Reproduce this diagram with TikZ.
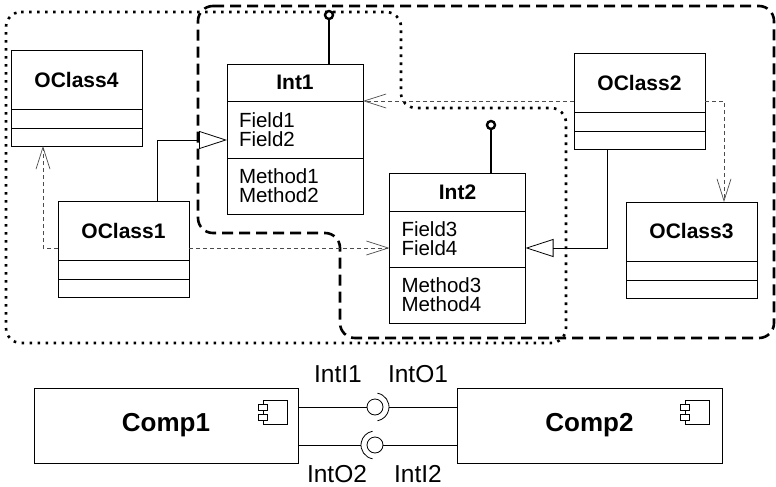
\documentclass[tikz,border=0pt]{standalone}
\usepackage{fontspec}
\setmainfont{Liberation Sans}
\usetikzlibrary{
  	positioning,
  	arrows.meta,
  	calc
  }
\tikzstyle{ctitle}=[draw,line width=0.8pt,outer sep=0pt,inner sep=0pt,minimum width=131pt,minimum height=59pt,font=\fontsize{21}{19}\selectfont\bfseries]
\tikzstyle{cpart}=[draw,line width=0.8pt,outer sep=0pt,inner sep=0pt,minimum width=131pt]
\tikzstyle{ipart}=[draw,line width=0.8pt,outer sep=0pt,text width=112pt,inner xsep=12pt,inner ysep=0pt,align=left,font=\fontsize{20.5}{19}\selectfont]
\tikzstyle{compbox}=[draw,line width=0.8pt,outer sep=0pt,minimum width=265pt,minimum height=75pt,font=\fontsize{26}{26}\selectfont\bfseries]
\tikzstyle{icon}=[draw,line width=0.7pt,fill=white,inner sep=0pt,minimum width=24pt,minimum height=24pt]
\tikzstyle{tab}=[draw,line width=0.7pt,fill=white,inner sep=0pt,minimum width=9pt,minimum height=6pt]
\tikzstyle{lolly}=[circle,draw,line width=2.4pt,inner sep=0pt,minimum size=8pt]
\tikzstyle{ball}=[circle,draw,line width=0.8pt,inner sep=0pt,minimum size=16pt]
\tikzstyle{lbl}=[font=\fontsize{24.5}{24.5}\selectfont,inner sep=0pt,text depth=0pt]
\tikzstyle{gen}=[line width=0.8pt,-{Triangle[open,length=28pt,width=18pt]}]
\tikzstyle{dep}=[line width=0.7pt,gray!60!black,dash pattern=on 4pt off 3pt,-{Straight Barb[length=22pt,width=14pt]}]
\tikzstyle{dotreg}=[line width=2.6pt,dash pattern=on 2.6pt off 5.4pt,rounded corners=15pt]
\tikzstyle{dashreg}=[line width=2.6pt,dash pattern=on 11pt off 6pt,rounded corners=15pt]
\begin{document}
\begin{tikzpicture}[x=1pt,y=-1pt]
    \useasboundingbox (0,0) rectangle (776,487);
    % packages
    \draw [dotreg] (6,12) -- (401,12) -- (401,108) -- (566,108) --
       (566,343) -- (6,343) -- cycle;
    \draw [dashreg] (198,6) -- (774,6) -- (774,338) -- (340,338) --
       (340,233) -- (198,233) -- cycle;
    % classes
    \node [ctitle] (oc4) at (76.5,79.5) {OClass4};
    \node [cpart,minimum height=19pt,below=0pt of oc4] (oc4a) {};
    \node [cpart,minimum height=18pt,below=0pt of oc4a] (oc4b) {};
    \node [ctitle] (oc1) at (123.5,230.5) {OClass1};
    \node [cpart,minimum height=19pt,below=0pt of oc1] (oc1a) {};
    \node [cpart,minimum height=18pt,below=0pt of oc1a] (oc1b) {};
    \node [ctitle] (oc2) at (639.5,82.5) {OClass2};
    \node [cpart,minimum height=19pt,below=0pt of oc2] (oc2a) {};
    \node [cpart,minimum height=18pt,below=0pt of oc2a] (oc2b) {};
    \node [ctitle] (oc3) at (691.5,231.5) {OClass3};
    \node [cpart,minimum height=19pt,below=0pt of oc3] (oc3a) {};
    \node [cpart,minimum height=18pt,below=0pt of oc3a] (oc3b) {};
    % interfaces
    \node [ctitle,minimum width=136pt,minimum height=37pt] (int1) at (295,82.5) {Int1};
    \node [ipart,minimum height=57pt,below=0pt of int1] (int1f) {Field1\\Field2};
    \node [ipart,minimum height=56pt,below=0pt of int1f] (int1m) {Method1\\Method2};
    \node [ctitle,minimum width=136pt,minimum height=38pt] (int2) at (457.5,192) {Int2};
    \node [ipart,minimum height=56pt,below=0pt of int2] (int2f) {Field3\\Field4};
    \node [ipart,minimum height=56pt,below=0pt of int2f] (int2m) {Method3\\Method4};
    \node [lolly] (l1) at (329,15) {};
    \node [lolly] (l2) at (491,125) {};
    \draw [line width=2.4pt] (l1) -- (l1 |- int1.north);
    \draw [line width=2.4pt] (l2) -- (l2 |- int2.north);
    % relations
    \coordinate (g1) at (157,140);
    \coordinate (g2) at (607,248);
    \coordinate (d2) at (724,101);
    \coordinate (d3) at (43,248);
    \draw [gen] (g1 |- oc1.north) -- (g1) -- (g1 -| int1f.west);
    \draw [gen] (g2 |- oc2b.south) -- (g2) -- (g2 -| int2f.east);
    \draw [dep] (oc2.west |- d2) -- (d2 -| int1f.east);
    \draw [dep] (oc2.east |- d2) -- (d2) -- (d2 |- oc3.north);
    \draw [dep] (oc1.west |- d3) -- (d3) -- (d3 |- oc4b.south);
    \draw [dep] (oc1.east |- d3) -- (d3 -| int2f.west);
    % components
    \node [compbox,minimum width=264pt] (comp1) at (166,425.5) {Comp1};
    \node [compbox] (comp2) at (589.5,425.5) {Comp2};
    \node [icon] (ic1) at (275,412) {};
    \node [tab] at ($(ic1.west)+(0,-5)$) {};
    \node [tab] at ($(ic1.west)+(0,5)$) {};
    \node [icon] (ic2) at (697,412) {};
    \node [tab] at ($(ic2.west)+(0,-5)$) {};
    \node [tab] at ($(ic2.west)+(0,5)$) {};
    \node [ball] (ball1) at (375,407) {};
    \node [ball] (ball2) at (375,445) {};
    \coordinate (s1) at ($(ball1.center)+(14,0)$);
    \coordinate (s2) at ($(ball2.center)+(-14,0)$);
    \draw [line width=0.8pt] (ball1.center) ++(-80:14) arc[start angle=-80,end angle=80,radius=14];
    \draw [line width=0.8pt] (ball2.center) ++(100:14) arc[start angle=100,end angle=260,radius=14];
    \draw [line width=0.8pt] (comp1.east |- ball1) -- (ball1.west);
    \draw [line width=0.8pt] (s1) -- (s1 -| comp2.west);
    \draw [line width=0.8pt] (comp1.east |- s2) -- (s2);
    \draw [line width=0.8pt] (ball2.east) -- (ball2.east -| comp2.west);
    \node [lbl] (li1) at (338,374) {IntI1};
    \node [lbl] (lo1) at (418,374) {IntO1};
    \node [lbl] (lo2) at (337,474) {IntO2};
    \node [lbl] (li2) at (418,474) {IntI2};
  \end{tikzpicture}
\end{document}
